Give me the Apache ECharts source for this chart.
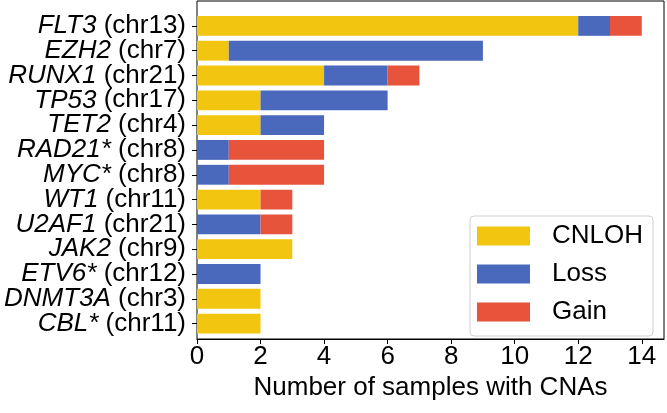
<!DOCTYPE html>
<html><head><meta charset="utf-8">
<script src="https://cdn.jsdelivr.net/npm/echarts@6/dist/echarts.min.js"></script>
<style>html,body{margin:0;padding:0;background:#fff}#c{width:667px;height:413px}</style>
</head><body><div id="c"></div>
<script>
const genes = ['FLT3','EZH2','RUNX1','TP53','TET2','RAD21*','MYC*','WT1','U2AF1','JAK2','ETV6*','DNMT3A','CBL*'];
const chroms = ['chr13','chr7','chr21','chr17','chr4','chr8','chr8','chr11','chr21','chr9','chr12','chr3','chr11'];
const cnloh = [12,1,4,2,2,0,0,2,0,3,0,2,2];
const loss  = [1,8,2,4,2,1,1,0,2,0,2,0,0];
const gain  = [1,0,1,0,0,3,3,1,1,0,0,0,0];
const xTicks = [0,2,4,6,8,10,12,14];
const seriesNames = ['CNLOH','Loss','Gain'];
const colors = ['#F2C511','#4A69BD','#E8533B'];

const FONT = '"Liberation Sans", Arial, Helvetica, sans-serif';
const FS = 26;
const categories = genes.map((g,i)=>g+'|'+chroms[i]);
const chart = echarts.init(document.getElementById('c'));
const vals = [cnloh, loss, gain];
chart.setOption({
  animation:false,
  textStyle:{fontFamily:FONT},
  grid:[
    {left:197, right:3, top:1, bottom:74, show:true, borderColor:'#000', borderWidth:1, backgroundColor:'transparent'},
    {left:197, right:3, top:13.5, bottom:77}
  ],
  xAxis:[
    {gridIndex:0, type:'value', min:0, max:14.7,
     axisLine:{show:true, lineStyle:{color:'#000', width:1}},
     axisTick:{show:true, length:5, customValues:xTicks, lineStyle:{color:'#000'}},
     axisLabel:{customValues:xTicks, fontSize:FS, color:'#000', margin:5, fontFamily:FONT},
     splitLine:{show:false},
     name:'Number of samples with CNAs', nameLocation:'middle', nameGap:31,
     nameTextStyle:{fontSize:FS, color:'#000', fontFamily:FONT}},
    {gridIndex:1, type:'value', min:0, max:14.7, show:false}
  ],
  yAxis:[
    {gridIndex:0, type:'value', show:false},
    {gridIndex:1, type:'category', inverse:true, data:categories,
     axisLine:{show:false},
     axisTick:{show:true, length:5, alignWithLabel:true, interval:0, lineStyle:{color:'#000'}},
     axisLabel:{margin:11, color:'#000', interval:0, showMinLabel:true, showMaxLabel:true, hideOverlap:false,
       formatter:function(v){const p=v.split('|');return '{i|'+p[0]+'}{n|\u00a0('+p[1]+')}';},
       rich:{i:{fontStyle:'italic', fontSize:FS, color:'#000', fontFamily:FONT},
             n:{fontSize:FS, color:'#000', fontFamily:FONT}}}
    }
  ],
  legend:{
    data:seriesNames, orient:'vertical', left:470, top:216,
    padding:[7,10,11,7], itemWidth:53, itemHeight:19, itemGap:12,
    borderColor:'#d0d0d0', borderWidth:1, borderRadius:4,
    icon:'rect',
    textStyle:{fontSize:FS, lineHeight:26, color:'#000', fontFamily:FONT, padding:[0,0,0,17]}
  },
  series: seriesNames.map((n,k)=>({
    name:n, type:'bar', stack:'total', xAxisIndex:1, yAxisIndex:1,
    barWidth:'80%', itemStyle:{color:colors[k]}, data:vals[k]
  }))
});
</script></body></html>
